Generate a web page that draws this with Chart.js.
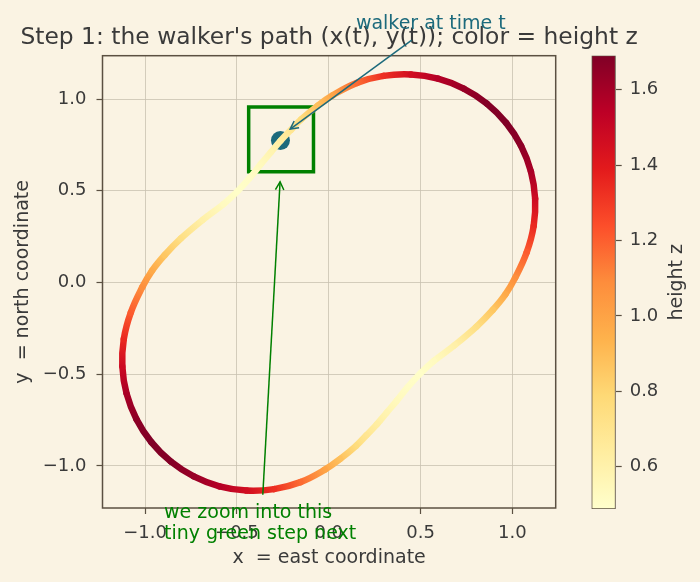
<!DOCTYPE html>
<html><head><meta charset="utf-8">
<script src="https://cdn.jsdelivr.net/npm/chart.js@4/dist/chart.umd.min.js"></script>
<style>
html,body{margin:0;padding:0;background:#faf3e3;}
#wrap{position:relative;width:700px;height:582px;overflow:hidden;}
canvas{position:absolute;left:0;top:0;}
</style></head><body>
<div id="wrap"><canvas id="main" width="700" height="582"></canvas><canvas id="cbar" width="700" height="582"></canvas></div>
<script>
// ---- data ----
const pathX = [-0.497,-0.430,-0.370,-0.315,-0.263,-0.205,-0.149,-0.062,0.021,0.154,0.298,0.447,0.595,0.735,0.860,0.966,1.047,1.101,1.124,1.116,1.078,1.015,0.962,0.893,0.805,0.685,0.572,
               0.497,0.430,0.370,0.315,0.263,0.205,0.149,0.062,-0.021,-0.154,-0.298,-0.447,-0.595,-0.735,-0.860,-0.966,-1.047,-1.101,-1.124,-1.116,-1.078,-1.015,-0.962,-0.893,-0.805,-0.685,-0.572];
const pathY = [0.497,0.570,0.645,0.710,0.772,0.833,0.890,0.962,1.020,1.088,1.126,1.134,1.111,1.057,0.976,0.870,0.745,0.605,0.457,0.308,0.164,0.025,-0.065,-0.150,-0.240,-0.342,-0.428,
               -0.497,-0.570,-0.645,-0.710,-0.772,-0.833,-0.890,-0.962,-1.020,-1.088,-1.126,-1.134,-1.111,-1.057,-0.976,-0.870,-0.745,-0.605,-0.457,-0.308,-0.164,-0.025,0.065,0.150,0.240,0.342,0.428];
const pathZ = [0.50,0.51,0.54,0.58,0.63,0.69,0.76,0.88,0.99,1.17,1.33,1.46,1.56,1.63,1.68,1.69,1.66,1.59,1.48,1.35,1.21,1.08,0.97,0.86,0.74,0.61,0.53,
               0.50,0.51,0.54,0.58,0.63,0.69,0.76,0.88,0.99,1.17,1.33,1.46,1.56,1.63,1.68,1.69,1.66,1.59,1.48,1.35,1.21,1.08,0.97,0.86,0.74,0.61,0.53];
const walkerPos = [-0.263, 0.774];
const zoomBoxX = [-0.436, -0.083];
const zoomBoxY = [0.603, 0.956];
const axisTicks = [-1.0, -0.5, 0.0, 0.5, 1.0];
const zRange = [0.488, 1.691];
const colorbarTicks = [0.6, 0.8, 1.0, 1.2, 1.4, 1.6];

const titleText = "Step 1: the walker's path (x(t), y(t)); color = height z";
const walkerLabel = "walker at time t";
const zoomLabel = ["we zoom into this", "tiny green step next"];

// annotation anchors (data coordinates)
const walkerLabelAt = [0.556, 1.383];
const walkerArrowFrom = [0.452, 1.321];
const walkerArrowTo = [-0.210, 0.836];
const zoomLabelAt = [-0.897, -1.281];
const zoomArrowFrom = [-0.359, -1.157];
const zoomArrowTo = [-0.265, 0.549];

// ---- styling ----
const FRAME = '#5b5042', TEXT = '#3a3a3a', GRID = '#c9c1b1';
const TEAL = '#1c6a7c', GREEN = '#008000';
const FONT = "'DejaVu Sans', sans-serif";
const ylorrd = ['#ffffcc','#ffeda0','#fed976','#feb24c','#fd8d3c','#fc4e2a','#e31a1c','#bd0026','#800026'];
function hex2rgb(h){return [parseInt(h.slice(1,3),16),parseInt(h.slice(3,5),16),parseInt(h.slice(5,7),16)];}
const ylRGB = ylorrd.map(hex2rgb);
function cmap(z){
  let t=(z-zRange[0])/(zRange[1]-zRange[0]); t=Math.max(0,Math.min(1,t));
  const p=t*(ylRGB.length-1); const i=Math.min(Math.floor(p), ylRGB.length-2); const f=p-i;
  const a=ylRGB[i], b=ylRGB[i+1];
  return 'rgb('+[0,1,2].map(k=>Math.round(a[k]+(b[k]-a[k])*f)).join(',')+')';
}
const fmt = v => (Math.abs(v)<1e-9?0:v).toFixed(1).replace('-', '\u2212');

const mainCanvas = document.getElementById('main');
const mctx = mainCanvas.getContext('2d');
const n = pathX.length;
// walk the closed loop starting on a straight stretch so the join is seamless
const startIdx = 3;
const order = [];
for (let k=0;k<=n;k++) order.push((startIdx+k)%n);
const pathPts = order.map(i=>({x:pathX[i], y:pathY[i]}));
const pathPtZ = order.map(i=>pathZ[i]);
const boxPts = [
  {x:zoomBoxX[0],y:zoomBoxY[0]},{x:zoomBoxX[1],y:zoomBoxY[0]},
  {x:zoomBoxX[1],y:zoomBoxY[1]},{x:zoomBoxX[0],y:zoomBoxY[1]},{x:zoomBoxX[0],y:zoomBoxY[0]}];

function drawArrow(ctx, x0,y0,x1,y1,color){
  ctx.save(); ctx.strokeStyle=color; ctx.lineWidth=1.5; ctx.lineCap='butt';
  ctx.beginPath(); ctx.moveTo(x0,y0); ctx.lineTo(x1,y1); ctx.stroke();
  const ang=Math.atan2(y1-y0,x1-x0), L=8, W=4.2;
  const bx=x1-L*Math.cos(ang), by=y1-L*Math.sin(ang);
  const px=-Math.sin(ang)*W, py=Math.cos(ang)*W;
  ctx.beginPath(); ctx.moveTo(bx+px,by+py); ctx.lineTo(x1,y1); ctx.lineTo(bx-px,by-py); ctx.stroke();
  ctx.restore();
}

const decor = {
  id:'decor',
  afterDraw(chart){
    const ctx=chart.ctx, a=chart.chartArea, sx=chart.scales.x, sy=chart.scales.y;
    const P=(d)=>[sx.getPixelForValue(d[0]), sy.getPixelForValue(d[1])];
    ctx.save();
    ctx.strokeStyle=FRAME; ctx.lineWidth=1.5;
    ctx.strokeRect(a.left,a.top,a.right-a.left,a.bottom-a.top);
    // title
    ctx.fillStyle=TEXT; ctx.font='23.4px '+FONT; ctx.textAlign='center'; ctx.textBaseline='alphabetic';
    ctx.fillText(titleText,(a.left+a.right)/2,44);
    // walker annotation
    let f=P(walkerArrowFrom), t=P(walkerArrowTo);
    drawArrow(ctx,f[0],f[1],t[0],t[1],TEAL);
    const wl=P(walkerLabelAt);
    ctx.fillStyle=TEAL; ctx.font='19px '+FONT; ctx.textAlign='center';
    ctx.fillText(walkerLabel,wl[0],wl[1]);
    // zoom annotation
    f=P(zoomArrowFrom); t=P(zoomArrowTo);
    drawArrow(ctx,f[0],f[1],t[0],t[1],GREEN);
    const zl=P(zoomLabelAt);
    ctx.fillStyle=GREEN; ctx.textAlign='left';
    ctx.fillText(zoomLabel[0],zl[0],zl[1]);
    ctx.fillText(zoomLabel[1],zl[0],zl[1]+21.5);
    ctx.restore();
  }
};

new Chart(mainCanvas,{
  type:'scatter',
  data:{datasets:[
    {data:pathPts, showLine:true, pointRadius:0, borderWidth:6.5, tension:0.4,
     borderCapStyle:'round', borderJoinStyle:'round', borderColor:'#fd8d3c',
     segment:{borderColor:c=>{
        const g=mctx.createLinearGradient(c.p0.x,c.p0.y,c.p1.x,c.p1.y);
        g.addColorStop(0,cmap(pathPtZ[c.p0DataIndex]));
        g.addColorStop(1,cmap(pathPtZ[c.p1DataIndex]));
        return g;}}},
    {data:boxPts, showLine:true, pointRadius:0, borderWidth:3.5, borderColor:GREEN, tension:0, borderJoinStyle:'miter', borderCapStyle:'square'},
    {data:[{x:walkerPos[0],y:walkerPos[1]}], pointRadius:9.5, pointBackgroundColor:TEAL, pointBorderColor:TEAL, borderWidth:0, showLine:false}
  ]},
  options:{
    responsive:false, animation:false, events:[],
    layout:{padding:{left:0,top:55.7,right:144.3,bottom:0}},
    plugins:{legend:{display:false}, tooltip:{enabled:false}, title:{display:false}},
    scales:{
      x:{type:'linear', min:-1.232, max:1.236,
        afterFit:s=>{s.height=74;},
        afterBuildTicks:s=>{s.ticks=axisTicks.map(v=>({value:v}));},
        border:{display:false},
        grid:{color:GRID, lineWidth:0.8, borderDash:[1,2.6], tickColor:FRAME, tickWidth:1.2, tickLength:6, tickBorderDash:[]},
        ticks:{color:TEXT, font:{family:FONT,size:18}, padding:9, callback:v=>fmt(v), maxRotation:0, autoSkip:false},
        title:{display:true, text:'x  = east coordinate', color:TEXT, font:{family:FONT,size:19}, padding:{top:0,bottom:13}}},
      y:{type:'linear', min:-1.229, max:1.236,
        afterFit:s=>{s.width=102.5;},
        afterBuildTicks:s=>{s.ticks=axisTicks.map(v=>({value:v}));},
        border:{display:false},
        grid:{color:GRID, lineWidth:0.8, borderDash:[1,2.6], tickColor:FRAME, tickWidth:1.2, tickLength:6, tickBorderDash:[]},
        ticks:{color:TEXT, font:{family:FONT,size:18}, padding:10, callback:v=>fmt(v), autoSkip:false},
        title:{display:true, text:'y  = north coordinate', color:TEXT, font:{family:FONT,size:19}, padding:{top:11.5,bottom:0}}}
    }
  },
  plugins:[decor]
});

// ---- colorbar ----
const cbLabel = {
  id:'cbLabel',
  afterDraw(chart){
    const ctx=chart.ctx, a=chart.chartArea;
    ctx.save(); ctx.translate(677,(a.top+a.bottom)/2); ctx.rotate(-Math.PI/2);
    ctx.fillStyle=TEXT; ctx.font='19px '+FONT; ctx.textAlign='center'; ctx.textBaseline='middle';
    ctx.fillText('height z',0,0); ctx.restore();
  }
};
new Chart(document.getElementById('cbar'),{
  type:'bar',
  data:{labels:[''], datasets:[{data:[[zRange[0],zRange[1]]], barPercentage:1, categoryPercentage:1,
    borderWidth:1.2, borderColor:FRAME, borderSkipped:false,
    backgroundColor:c=>{
      const a=c.chart.chartArea; if(!a) return '#fd8d3c';
      const g=c.chart.ctx.createLinearGradient(0,a.bottom,0,a.top);
      ylorrd.forEach((col,i)=>g.addColorStop(i/(ylorrd.length-1),col));
      return g;}}]},
  options:{
    responsive:false, animation:false, events:[],
    layout:{padding:{left:591.5,top:55.5,right:0,bottom:73}},
    plugins:{legend:{display:false}, tooltip:{enabled:false}},
    scales:{
      x:{display:false},
      y:{position:'right', min:zRange[0], max:zRange[1],
        afterFit:s=>{s.width=84.3;},
        afterBuildTicks:s=>{s.ticks=colorbarTicks.map(v=>({value:v}));},
        border:{display:false},
        grid:{drawOnChartArea:false, drawTicks:true, tickLength:6, tickColor:FRAME, tickWidth:1.2},
        ticks:{color:TEXT, font:{family:FONT,size:18}, padding:8, callback:v=>fmt(v)}}
    }
  },
  plugins:[cbLabel]
});
</script>
</body></html>
